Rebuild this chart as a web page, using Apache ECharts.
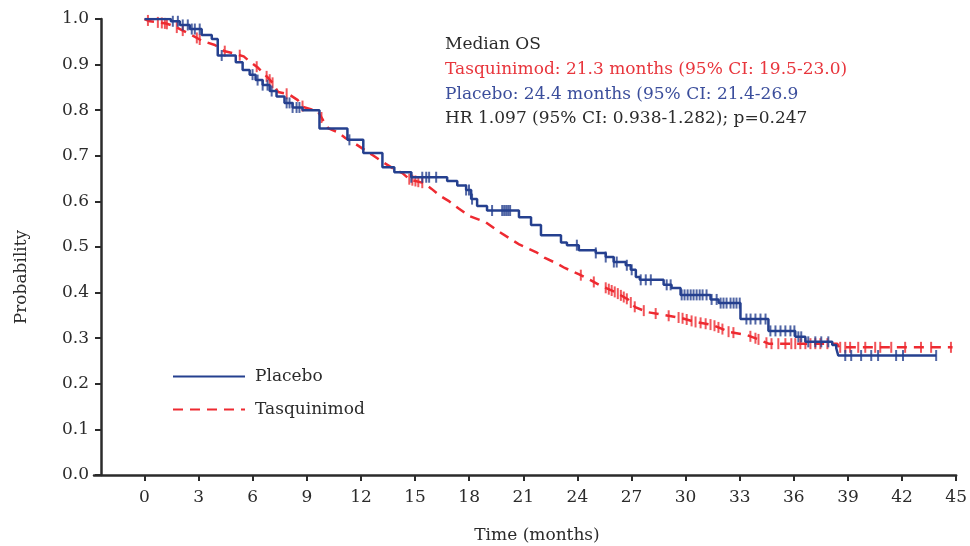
<!DOCTYPE html>
<html>
<head>
<meta charset="utf-8">
<script src="https://cdn.jsdelivr.net/npm/echarts@6/dist/echarts.min.js"></script>
<style>
html, body { margin: 0; padding: 0; background: #fff; }
#chart { width: 970px; height: 546px; }
</style>
</head>
<body>
<div id="chart"></div>
<script>
// Placebo KM curve: event times (months) and survival after each event
const placeboTime = [0, 1.46, 1.96, 2.51, 3.17, 3.73, 4.06, 5.06, 5.44, 5.83, 6.16, 6.55, 6.94, 7.32, 7.76, 8.21, 8.76,
  9.70, 11.25, 12.13, 13.19, 13.85, 14.79, 16.78, 17.34, 17.83, 18.11, 18.44, 18.99, 20.76, 21.43, 21.98, 23.09,
  23.42, 24.08, 25.02, 25.57, 26.01, 26.68, 26.96, 27.24, 27.46, 28.78, 29.22, 29.72, 31.38, 31.83, 33.04, 34.59,
  36.08, 36.64, 38.13, 38.35, 38.46, 43.89];
const placeboSurv = [1.0, 0.995, 0.987, 0.978, 0.965, 0.956, 0.92, 0.905, 0.888, 0.878, 0.866, 0.855, 0.842, 0.83, 0.816, 0.806, 0.80,
  0.76, 0.735, 0.706, 0.675, 0.664, 0.653, 0.645, 0.635, 0.625, 0.605, 0.59, 0.58, 0.565, 0.548, 0.526, 0.51,
  0.504, 0.493, 0.487, 0.478, 0.467, 0.46, 0.45, 0.434, 0.428, 0.417, 0.41, 0.395, 0.385, 0.377, 0.342, 0.316,
  0.303, 0.292, 0.285, 0.278, 0.262, 0.262];
// Placebo censored times
const placeboCensor = [1.57, 1.85, 2.12, 2.40, 2.62, 2.79, 3.06, 4.28, 5.99, 6.27, 6.55, 6.82, 7.05, 7.88, 8.04, 8.21,
  8.43, 8.59, 11.36, 14.79, 15.40, 15.62, 15.78, 16.17, 17.83, 17.99, 18.16, 19.27, 19.83, 19.94, 20.05, 20.16, 20.27,
  23.97, 25.02, 25.57, 26.02, 26.18, 26.74, 27.01, 27.51, 27.79, 28.07, 28.95, 29.17, 29.78, 29.94, 30.11, 30.28,
  30.44, 30.61, 30.78, 30.94, 31.16, 31.44, 31.72, 31.94, 32.10, 32.27, 32.49, 32.66, 32.82, 33.0, 33.37, 33.60,
  33.87, 34.15, 34.43, 34.70, 34.98, 35.26, 35.53, 35.81, 36.03, 36.25, 36.41, 36.80, 37.19, 37.52, 37.91, 38.85,
  39.18, 39.73, 40.29, 40.67, 41.67, 42.05, 43.89];

// Tasquinimod KM curve
const tasqTime = [0, 0.3, 1.2, 1.6, 2.1, 2.6, 3.2, 3.9, 4.4, 4.9, 5.5, 5.8, 6.3, 6.8, 7.1, 7.4, 8.0, 8.5, 8.8, 9.6, 9.9,
  10.2, 10.7, 11.1, 11.7, 12.2, 12.7, 13.3, 13.8, 14.3, 14.7, 15.5, 15.9, 16.4, 16.9, 17.4, 18.0, 18.9, 19.6, 20.2,
  20.8, 21.7, 22.2, 22.8, 23.3, 24.1, 24.7, 25.2, 25.6, 26.1, 26.8, 27.2, 27.9, 28.8, 29.8, 30.5, 31.5, 32.4, 33.4,
  34.0, 34.6, 38.4, 38.5, 44.8];
const tasqSurv = [1.0, 0.995, 0.99, 0.985, 0.975, 0.965, 0.952, 0.943, 0.93, 0.925, 0.918, 0.908, 0.893, 0.873, 0.86, 0.84,
  0.835, 0.822, 0.807, 0.798, 0.778, 0.76, 0.752, 0.74, 0.726, 0.713, 0.70, 0.684, 0.672, 0.662, 0.648, 0.64, 0.628,
  0.612, 0.60, 0.585, 0.568, 0.555, 0.535, 0.52, 0.505, 0.489, 0.476, 0.465, 0.454, 0.44, 0.428, 0.417, 0.41, 0.401,
  0.385, 0.368, 0.357, 0.351, 0.344, 0.336, 0.329, 0.314, 0.307, 0.298, 0.288, 0.288, 0.28, 0.28];
const tasqCensor = [0.19, 0.74, 0.96, 1.13, 1.24, 1.79, 2.12, 2.90, 3.06, 4.45, 5.28, 6.22, 6.77, 6.94, 7.10, 7.88, 8.76,
  9.81, 14.68, 14.85, 15.02, 15.18, 15.40, 24.19, 24.91, 25.57, 25.74, 25.90, 26.07, 26.24, 26.41, 26.57, 26.74,
  26.96, 27.18, 27.68, 28.34, 29.06, 29.61, 29.83, 30.06, 30.33, 30.55, 30.83, 31.11, 31.38, 31.60, 31.82, 32.04,
  32.38, 32.65, 33.59, 33.87, 34.04, 34.48, 34.76, 35.14, 35.53, 35.86, 36.08, 36.36, 36.64, 36.92, 37.19, 37.47,
  37.86, 38.57, 38.85, 39.12, 39.57, 39.96, 40.51, 40.79, 41.40, 42.17, 43.05, 43.61, 44.71];

const xTicks = [0, 3, 6, 9, 12, 15, 18, 21, 24, 27, 30, 33, 36, 39, 42, 45];

const BLUE = '#25408f';
const RED = '#ee2a31';
const INK = '#2b2b2b';
const FONT = 'DejaVu Serif';

// survival at time t
function stepAt(times, surv, t) {
  let s = surv[0];
  for (let i = 0; i < times.length; i++) {
    if (times[i] <= t) s = surv[i];
  }
  return s;
}
// survival at time t
function lineAt(times, surv, t) {
  for (let i = 1; i < times.length; i++) {
    if (t <= times[i]) {
      const f = (t - times[i - 1]) / (times[i] - times[i - 1]);
      return surv[i - 1] + f * (surv[i] - surv[i - 1]);
    }
  }
  return surv[surv.length - 1];
}

const placeboData = placeboTime.map((t, i) => [t, placeboSurv[i]]);
const tasqData = tasqTime.map((t, i) => [t, tasqSurv[i]]);
const placeboCensorData = placeboCensor.map(t => [t, stepAt(placeboTime, placeboSurv, t)]);
const tasqCensorData = tasqCensor.map(t => [t, lineAt(tasqTime, tasqSurv, t)]);

const chart = echarts.init(document.getElementById('chart'));

const option = {
  animation: false,
  grid: { left: 94, right: 11, top: 19, bottom: 71 },
  legend: {
    data: ['Placebo', 'Tasquinimod'],
    orient: 'vertical',
    left: 167,
    top: 363,
    itemWidth: 72,
    itemHeight: 14,
    itemGap: 16,
    itemStyle: { opacity: 0 },
    textStyle: { fontFamily: FONT, fontSize: 17, color: INK, padding: [0, 0, 0, 5] }
  },
  xAxis: {
    type: 'value',
    min: -2.8,
    max: 45,
    axisLine: { lineStyle: { color: INK, width: 2.5 } },
    axisTick: { customValues: xTicks, length: 6, lineStyle: { color: INK, width: 2 } },
    axisLabel: { customValues: xTicks, margin: 14, fontFamily: FONT, fontSize: 17, color: INK },
    splitLine: { show: false }
  },
  yAxis: {
    type: 'value',
    min: 0,
    max: 1,
    interval: 0.1,
    offset: -7,
    axisLine: { show: true, onZero: false, lineStyle: { color: INK, width: 2.5 } },
    axisTick: { show: true, length: 6, lineStyle: { color: INK, width: 2 } },
    axisLabel: { margin: 12, fontFamily: FONT, fontSize: 17, color: INK, formatter: v => v.toFixed(1) },
    splitLine: { show: false }
  },
  graphic: [
    { type: 'text', left: 445, top: 36, style: { text: 'Median OS', font: '17px "DejaVu Serif"', fill: INK } },
    { type: 'text', left: 445, top: 61, style: { text: 'Tasquinimod: 21.3 months (95% CI: 19.5-23.0)', font: '17px "DejaVu Serif"', fill: '#e8353c' } },
    { type: 'text', left: 445, top: 86, style: { text: 'Placebo: 24.4 months (95% CI: 21.4-26.9', font: '17px "DejaVu Serif"', fill: '#3b4e9c' } },
    { type: 'text', left: 445, top: 110, style: { text: 'HR 1.097 (95% CI: 0.938-1.282); p=0.247', font: '17px "DejaVu Serif"', fill: INK } },
    { type: 'text', x: 22, y: 277, rotation: Math.PI / 2,
      style: { text: 'Probability', font: '17px "DejaVu Serif"', fill: INK, textAlign: 'center', textVerticalAlign: 'middle' } },
    { type: 'text', x: 537, y: 536,
      style: { text: 'Time (months)', font: '17px "DejaVu Serif"', fill: INK, textAlign: 'center', textVerticalAlign: 'middle' } }
  ],
  series: [
    {
      name: 'Tasquinimod',
      type: 'line',
      data: tasqData,
      symbol: 'none',
      color: RED,
      lineStyle: { color: RED, width: 2.5, type: [10, 7] },
      z: 2
    },
    {
      name: 'Tasquinimod censored',
      type: 'scatter',
      data: tasqCensorData,
      symbol: 'rect',
      symbolSize: [2, 11],
      itemStyle: { color: RED },
      z: 2
    },
    {
      name: 'Placebo',
      type: 'line',
      step: 'end',
      data: placeboData,
      symbol: 'none',
      color: BLUE,
      lineStyle: { color: BLUE, width: 2.5 },
      z: 3
    },
    {
      name: 'Placebo censored',
      type: 'scatter',
      data: placeboCensorData,
      symbol: 'rect',
      symbolSize: [2, 11],
      itemStyle: { color: BLUE },
      z: 3
    }
  ]
};

chart.setOption(option);
</script>
</body>
</html>
